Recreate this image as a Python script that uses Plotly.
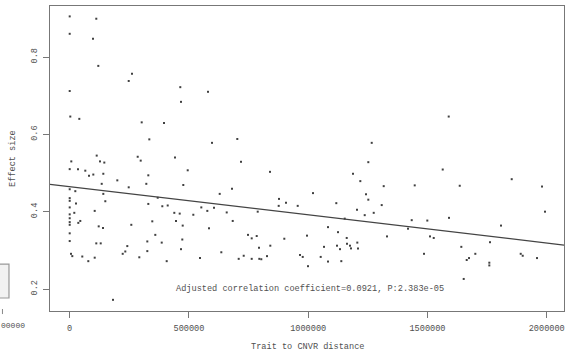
import plotly.graph_objects as go

# Trait-to-CNVR distance (bp) and effect size
distance = [
    0, 111500, 0, 97700, 119900, 261200, 247400, 0, 2500, 40300, 301900, 333800,
    113200, 6700, 127000, 145100, 285100, 297700, 0, 34800, 65400, 99000, 80900, 140900,
    329600, 199600, 134200, 321200, 247400, 0, 23500, 140900, 0, 0, 149300, 26400,
    329600, 0, 104800, 0, 19300, 0, 44400, 36100, 0, 0, 346300, 121600,
    139600, 258300, 0, 358900, 0, 111500, 130000, 325400, 241500, 233100, 222200, 325400,
    5500, 10900, 52800, 104800, 78000, 291800, 181600,
    463700, 579900, 466700, 395400, 596700, 702700, 441500, 718300, 494800, 839900, 476300, 680500,
    628950, 369000, 877600, 388300, 410900, 551800, 577000, 605000, 876300, 906900, 956000, 438600,
    461200, 518300, 658300, 788300, 445700, 473800, 683500, 584100, 747600, 763100, 784100, 899800,
    385800, 472100, 841100, 793700, 466700, 635700, 729600, 827300, 965700, 977000, 546300, 708600,
    763100, 795000, 803400, 406700,
    1589100, 1266300, 1252000, 1564000, 1187900, 1218500, 1316600, 1446600, 1020200, 1242400,
    1252000, 1117800, 1308200, 1204600, 1274700, 1236900, 1590400, 1153100, 1434000, 1499400,
    1083100, 1418500, 1125000, 995000, 1330400, 1510700, 1526300, 1161500, 1205900, 1066300,
    1120800, 1175300, 1162700, 1179500, 1208800, 1133400, 1485600, 1052400, 1083100, 1138800, 999200,
    1853300, 1635300, 1980400, 1992900, 1808400, 1762300, 1642000, 1700700, 1891000, 1899400,
    1959400, 1674300, 1664600, 1759400, 1759400, 1652000,
]
effect = [
    0.905, 0.899, 0.860, 0.847, 0.777, 0.757, 0.738, 0.712, 0.646, 0.640, 0.631, 0.587,
    0.545, 0.530, 0.530, 0.527, 0.542, 0.532, 0.510, 0.510, 0.506, 0.496, 0.493, 0.498,
    0.494, 0.481, 0.472, 0.472, 0.463, 0.458, 0.453, 0.446, 0.435, 0.428, 0.427, 0.421,
    0.420, 0.411, 0.402, 0.393, 0.397, 0.383, 0.376, 0.371, 0.373, 0.366, 0.375, 0.362,
    0.358, 0.366, 0.344, 0.340, 0.324, 0.318, 0.318, 0.323, 0.311, 0.297, 0.291, 0.298,
    0.291, 0.285, 0.284, 0.281, 0.272, 0.282, 0.172,
    0.722, 0.710, 0.684, 0.629, 0.578, 0.588, 0.540, 0.529, 0.507, 0.503, 0.469, 0.459,
    0.446, 0.436, 0.433, 0.414, 0.416, 0.411, 0.402, 0.410, 0.415, 0.423, 0.415, 0.397,
    0.395, 0.392, 0.398, 0.400, 0.376, 0.364, 0.376, 0.357, 0.340, 0.331, 0.337, 0.330,
    0.320, 0.328, 0.312, 0.307, 0.303, 0.295, 0.286, 0.285, 0.288, 0.283, 0.280, 0.278,
    0.278, 0.278, 0.277, 0.272,
    0.646, 0.578, 0.528, 0.509, 0.498, 0.479, 0.466, 0.468, 0.448, 0.445,
    0.431, 0.422, 0.417, 0.405, 0.397, 0.391, 0.384, 0.382, 0.378, 0.377,
    0.360, 0.356, 0.347, 0.338, 0.336, 0.336, 0.332, 0.332, 0.320, 0.309,
    0.312, 0.312, 0.317, 0.305, 0.305, 0.303, 0.291, 0.283, 0.271, 0.272, 0.259,
    0.484, 0.467, 0.465, 0.400, 0.364, 0.321, 0.309, 0.291, 0.291, 0.286,
    0.280, 0.280, 0.275, 0.268, 0.261, 0.226,
]

# Regression line
fit_intercept = 0.4646
fit_slope = -7.28e-8

x_range = [-82600, 2072500]
y_range = [0.1431, 0.9319]
x_ticks = [0, 500000, 1000000, 1500000, 2000000]
x_ticklabels = ["0", "500000", "1000000", "1500000", "2000000"]
y_ticks = [0.2, 0.4, 0.6, 0.8]
y_ticklabels = ["0.2", "0.4", "0.6", "0.8"]

note = "Adjusted correlation coefficient=0.0921, P:2.383e-05"

FONT = "Liberation Mono, Courier New, monospace"
TXT = "#505050"
AX = "#777777"

fig = go.Figure()
fig.add_trace(go.Scatter(
    x=distance, y=effect, mode="markers",
    marker=dict(size=2.0, color="#404040", symbol="square", line=dict(width=0)),
    hoverinfo="skip", showlegend=False,
))
fit_x = x_range
fit_y = [fit_intercept + fit_slope * v for v in fit_x]
fig.add_trace(go.Scatter(
    x=fit_x, y=fit_y, mode="lines",
    line=dict(color="#444444", width=1.2),
    hoverinfo="skip", showlegend=False,
))

fig.update_layout(
    width=571, height=360,
    margin=dict(l=50, r=7, t=6, b=49),
    paper_bgcolor="white", plot_bgcolor="white",
    font=dict(family=FONT, size=8.6, color=TXT),
    xaxis=dict(
        range=x_range, tickvals=x_ticks, ticktext=x_ticklabels,
        showgrid=False, zeroline=False, showline=True, mirror=True,
        linecolor=AX, linewidth=1.2, ticks="outside", ticklen=6,
        tickcolor=AX, tickwidth=1, tickfont=dict(family=FONT, size=8.6, color=TXT),
        ticklabelstandoff=3,
    ),
    yaxis=dict(
        range=y_range, tickvals=y_ticks, ticktext=y_ticklabels,
        showgrid=False, zeroline=False, showline=True, mirror=True,
        linecolor=AX, linewidth=1.2, ticks="outside", ticklen=6,
        tickcolor=AX, tickwidth=1, tickangle=-90,
        tickfont=dict(family=FONT, size=8.6, color=TXT),
        ticklabelstandoff=2,
    ),
    annotations=[
        dict(text=note, x=1006000, y=0.2, xref="x", yref="y",
             showarrow=False, font=dict(family=FONT, size=8.6, color=TXT),
             xanchor="center", yanchor="middle"),
        dict(text="Trait to CNVR distance", x=0.5, y=-0.118, xref="paper", yref="paper",
             showarrow=False, font=dict(family=FONT, size=8.6, color=TXT),
             xanchor="center", yanchor="middle"),
        dict(text="Effect size", x=-0.073, y=0.5, xref="paper", yref="paper",
             showarrow=False, textangle=-90, font=dict(family=FONT, size=8.6, color=TXT),
             xanchor="center", yanchor="middle"),
        # fragment of a neighbouring panel's tick label, kept fully inside the page
        dict(text="00000", x=-0.0973, y=-0.049, xref="paper", yref="paper",
             showarrow=False, font=dict(family=FONT, size=8.0, color=TXT),
             xanchor="left", yanchor="middle", xshift=-1),
    ],
    shapes=[
        # cropped fragment of a neighbouring panel's legend box
        dict(type="rect", xref="paper", yref="paper",
             x0=-0.12, x1=-0.0798, y0=0.0426, y1=0.154,
             line=dict(color="#999999", width=1.2), fillcolor="#f2f2f2"),
        dict(type="line", xref="paper", yref="paper",
             x0=-0.0925, x1=-0.0925, y0=0.0066, y1=-0.01,
             line=dict(color="#888888", width=1)),
    ],
)

fig.write_html("out.html")
